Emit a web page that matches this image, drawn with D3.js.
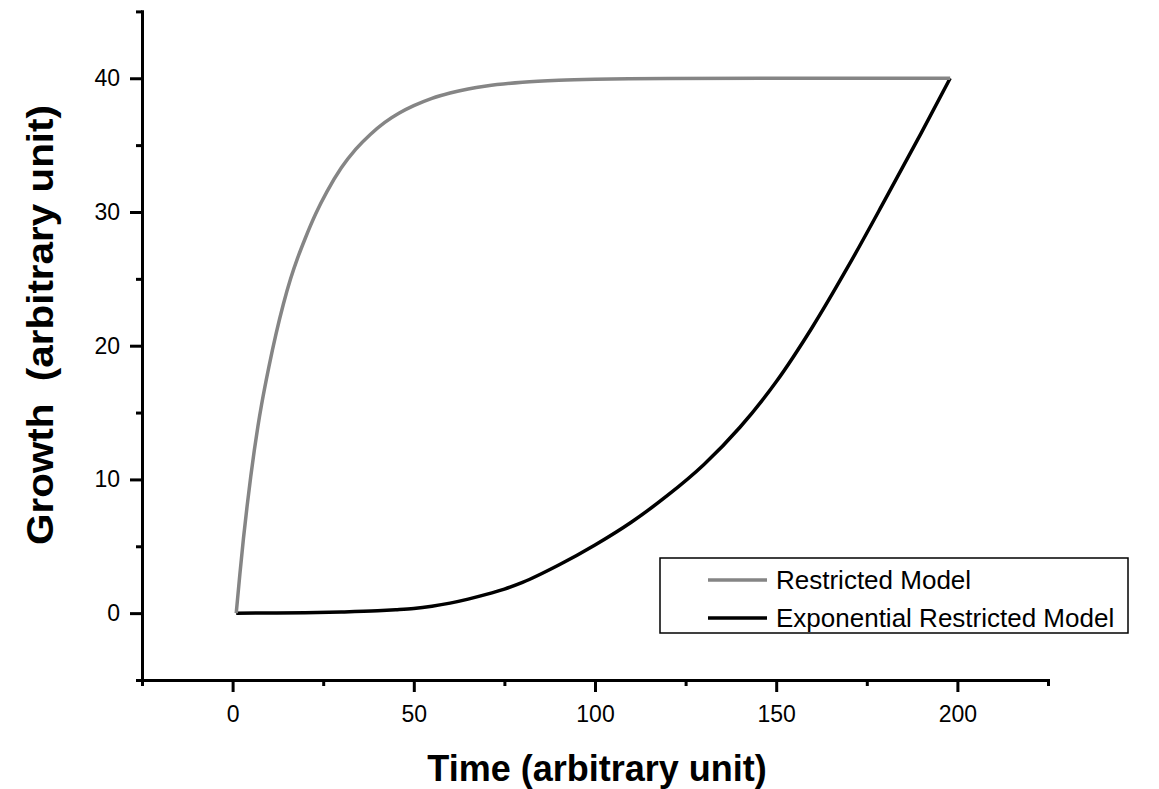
<!DOCTYPE html>
<html>
<head>
<meta charset="utf-8">
<script src="https://cdn.jsdelivr.net/npm/d3@7"></script>
<style>
  html, body { margin: 0; padding: 0; background: #fff; }
  svg { display: block; }
  text { font-family: "Liberation Sans", Arial, sans-serif; }
</style>
</head>
<body>
<svg id="chart" width="1159" height="789"></svg>
<script>
// ---- Data ----
const restrictedTime  = [1, 2, 3, 4, 5, 6, 7, 8, 10, 12, 14, 16, 18, 20, 23, 26, 30, 34, 38, 42, 46, 50, 55, 60, 65, 70, 80, 90, 100, 120, 150, 198];
const restrictedValue = [0, 2.9, 5.6, 8.0, 10.2, 12.2, 14.0, 15.6, 18.4, 20.9, 23.1, 25.0, 26.6, 28.0, 29.9, 31.5, 33.3, 34.7, 35.8, 36.7, 37.4, 37.95, 38.5, 38.9, 39.2, 39.42, 39.7, 39.85, 39.93, 39.99, 40, 40];

const expTime  = [1, 10, 20, 30, 40, 45, 50, 55, 60, 65, 70, 75, 80, 90, 100, 110, 120, 130, 140, 150, 160, 170, 180, 190, 198];
const expValue = [0, 0.01, 0.03, 0.08, 0.17, 0.25, 0.35, 0.52, 0.75, 1.05, 1.4, 1.8, 2.3, 3.6, 5.1, 6.8, 8.8, 11.1, 13.9, 17.3, 21.4, 26.0, 30.9, 35.9, 40.0];

const xMajorTicks = [0, 50, 100, 150, 200];
const xMinorTicks = [-25, 25, 75, 125, 175, 225];
const yMajorTicks = [0, 10, 20, 30, 40];
const yMinorTicks = [-5, 5, 15, 25, 35, 45];

const seriesNames = ["Restricted Model", "Exponential Restricted Model"];
const seriesColors = ["#858585", "#000000"];

// ---- Layout ----
const svg = d3.select("#chart");
const x = d3.scaleLinear().domain([-25, 225]).range([142, 1048]);
const y = d3.scaleLinear().domain([-5, 45]).range([680, 11.4]);

function styleAxis(g, width) {
  g.select(".domain").attr("stroke", "#000").attr("stroke-width", width).attr("stroke-linecap", "square");
  g.selectAll(".tick line").attr("stroke", "#000").attr("stroke-width", width);
}

// minor ticks
const gxMinor = svg.append("g").attr("transform", `translate(0,${y(-5)})`)
  .call(d3.axisBottom(x).tickValues(xMinorTicks).tickSize(6).tickSizeOuter(0).tickFormat(""));
styleAxis(gxMinor, 3);
const gyMinor = svg.append("g").attr("transform", `translate(${x(-25)},0)`)
  .call(d3.axisLeft(y).tickValues(yMinorTicks).tickSize(6).tickSizeOuter(0).tickFormat(""));
styleAxis(gyMinor, 3);

// major ticks
const gx = svg.append("g").attr("transform", `translate(0,${y(-5)})`)
  .call(d3.axisBottom(x).tickValues(xMajorTicks).tickSize(12).tickSizeOuter(0).tickPadding(14).tickFormat(d3.format("d")));
styleAxis(gx, 3);
gx.selectAll(".tick text").attr("font-size", 23).attr("fill", "#000")
  .attr("font-family", "Liberation Sans, Arial, sans-serif");

const gy = svg.append("g").attr("transform", `translate(${x(-25)},0)`)
  .call(d3.axisLeft(y).tickValues(yMajorTicks).tickSize(12).tickSizeOuter(0).tickPadding(10).tickFormat(d3.format("d")));
styleAxis(gy, 3);
gy.selectAll(".tick text").attr("font-size", 23).attr("fill", "#000")
  .attr("font-family", "Liberation Sans, Arial, sans-serif");

// ---- Lines ----
const line = d3.line().x(d => x(d[0])).y(d => y(d[1])).curve(d3.curveMonotoneX);
const restricted = restrictedTime.map((t, i) => [t, restrictedValue[i]]);
const expo = expTime.map((t, i) => [t, expValue[i]]);

svg.append("path").datum(expo).attr("d", line)
  .attr("fill", "none").attr("stroke", seriesColors[1]).attr("stroke-width", 3.5);
svg.append("path").datum(restricted).attr("d", line)
  .attr("fill", "none").attr("stroke", seriesColors[0]).attr("stroke-width", 3.5);

// ---- Axis titles ----
svg.append("text").attr("x", 597).attr("y", 781).attr("text-anchor", "middle")
  .attr("font-size", 36).attr("font-weight", "bold").attr("fill", "#000")
  .text("Time (arbitrary unit)");

svg.append("text").attr("transform", "translate(53,325) rotate(-90)")
  .attr("text-anchor", "middle").attr("font-size", 37).attr("font-weight", "bold").attr("fill", "#000")
  .attr("textLength", 440).attr("lengthAdjust", "spacingAndGlyphs")
  .style("white-space", "pre")
  .text("Growth  (arbitrary unit)");

// ---- Legend ----
const lg = svg.append("g");
lg.append("rect").attr("x", 660).attr("y", 558).attr("width", 468).attr("height", 75)
  .attr("fill", "#fff").attr("stroke", "#000").attr("stroke-width", 1.5);
const legendY = [580, 618];
seriesNames.forEach((name, i) => {
  lg.append("line").attr("x1", 708).attr("x2", 767).attr("y1", legendY[i]).attr("y2", legendY[i])
    .attr("stroke", seriesColors[i]).attr("stroke-width", 3.5);
  lg.append("text").attr("x", 776).attr("y", legendY[i] + 9).attr("font-size", 26).attr("fill", "#000")
    .text(name);
});
</script>
</body>
</html>
